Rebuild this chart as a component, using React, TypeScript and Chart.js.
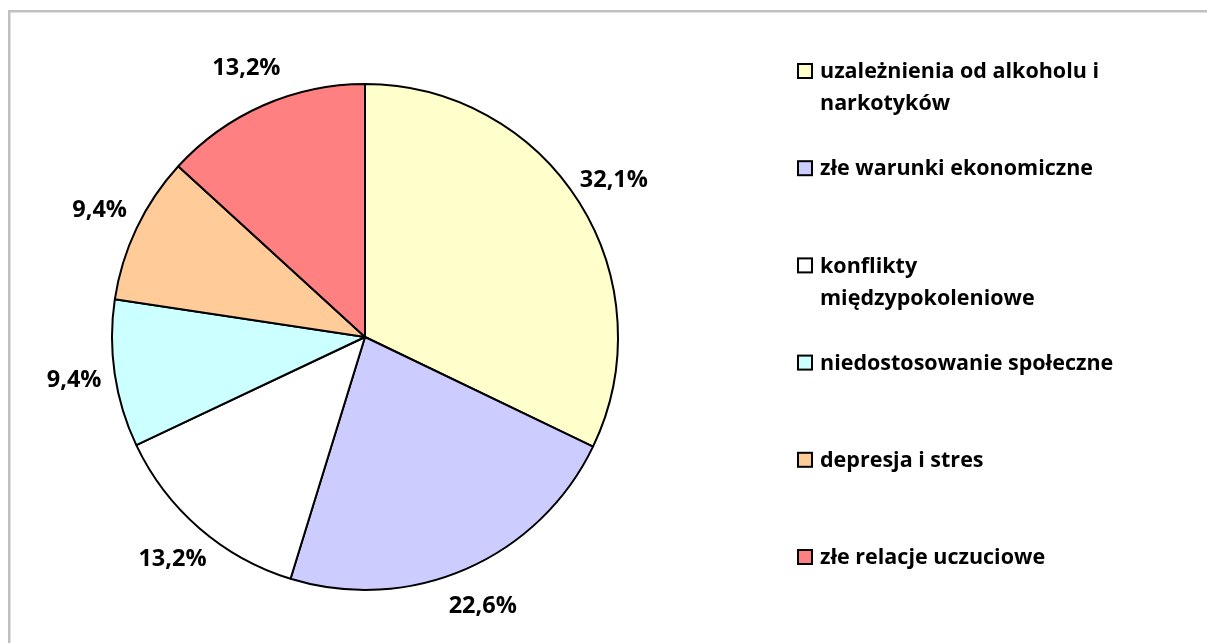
import React, { useEffect, useRef } from "react";
import { Chart, registerables } from "chart.js";

Chart.register(...registerables);

const categories = [
  "uzależnienia od alkoholu i narkotyków",
  "złe warunki ekonomiczne",
  "konflikty międzypokoleniowe",
  "niedostosowanie społeczne",
  "depresja i stres",
  "złe relacje uczuciowe",
];
const values = [32.1, 22.6, 13.2, 9.4, 9.4, 13.2];
const colors = ["#FFFFCC", "#CCCCFF", "#FFFFFF", "#CCFFFF", "#FFCC99", "#FF8080"];

const W = 1207;
const H = 643;
const FONT = '"Open Sans", "DejaVu Sans", sans-serif';

function wrap(ctx: CanvasRenderingContext2D, text: string, maxW: number): string[] {
  const words = text.split(" ");
  const lines: string[] = [];
  let cur = "";
  for (const w of words) {
    const t = cur ? cur + " " + w : w;
    if (ctx.measureText(t).width > maxW && cur) {
      lines.push(cur);
      cur = w;
    } else cur = t;
  }
  if (cur) lines.push(cur);
  return lines;
}

const framePlugin = {
  id: "frame",
  beforeDraw(chart: any) {
    const ctx = chart.ctx;
    ctx.save();
    ctx.fillStyle = "#ffffff";
    ctx.fillRect(0, 0, W, H);
    ctx.fillStyle = "#c0c0c0";
    ctx.fillRect(8, 10, W - 8, 2.5);
    ctx.fillRect(8, 10, 2.5, H - 10);
    ctx.restore();
  },
};

const labelPlugin = {
  id: "pctLabels",
  afterDatasetsDraw(chart: any) {
    const ctx = chart.ctx;
    const meta = chart.getDatasetMeta(0);
    ctx.save();
    ctx.font = "bold 23.5px " + FONT;
    ctx.fillStyle = "#000000";
    ctx.textAlign = "center";
    ctx.textBaseline = "middle";
    meta.data.forEach((arc: any, i: number) => {
      const p = arc.getProps(["x", "y", "startAngle", "endAngle", "outerRadius"], true);
      const mid = (p.startAngle + p.endAngle) / 2;
      const d = p.outerRadius + 41;
      const txt = values[i].toFixed(1).replace(".", ",") + "%";
      ctx.fillText(txt, p.x + Math.cos(mid) * d, p.y + Math.sin(mid) * d);
    });
    ctx.restore();
  },
};

const legendPlugin = {
  id: "sideLegend",
  afterDraw(chart: any) {
    const ctx = chart.ctx;
    ctx.save();
    ctx.font = "bold 21.5px " + FONT;
    ctx.textBaseline = "middle";
    ctx.textAlign = "left";
    categories.forEach((label, i) => {
      const y0 = 72 + i * 97.2;
      ctx.fillStyle = colors[i];
      ctx.fillRect(798, y0 - 8, 14, 14);
      ctx.strokeStyle = "#000000";
      ctx.lineWidth = 2;
      ctx.strokeRect(798, y0 - 8, 14, 14);
      ctx.fillStyle = "#000000";
      const lines = wrap(ctx, label, 300);
      lines.forEach((ln, k) => ctx.fillText(ln, 820, y0 + k * 32));
    });
    ctx.restore();
  },
};

export default function App() {
  const ref = useRef<HTMLCanvasElement | null>(null);
  useEffect(() => {
    if (!ref.current) return;
    const chart = new Chart(ref.current, {
      type: "pie",
      data: {
        labels: categories,
        datasets: [
          {
            data: values,
            backgroundColor: colors,
            borderColor: "#000000",
            borderWidth: 2,
            borderAlign: "center",
          },
        ],
      },
      options: {
        responsive: false,
        animation: false,
        layout: { padding: { left: 111, right: W - 619, top: 83, bottom: H - 591 } },
        plugins: {
          legend: { display: false },
          tooltip: { enabled: false },
          title: { display: false },
        },
      },
      plugins: [framePlugin, labelPlugin, legendPlugin],
    });
    return () => chart.destroy();
  }, []);
  return (
    <div style={{ position: "absolute", left: 0, top: 0, width: W, height: H, background: "#fff" }}>
      <canvas ref={ref} width={W} height={H} style={{ display: "block" }} />
    </div>
  );
}
